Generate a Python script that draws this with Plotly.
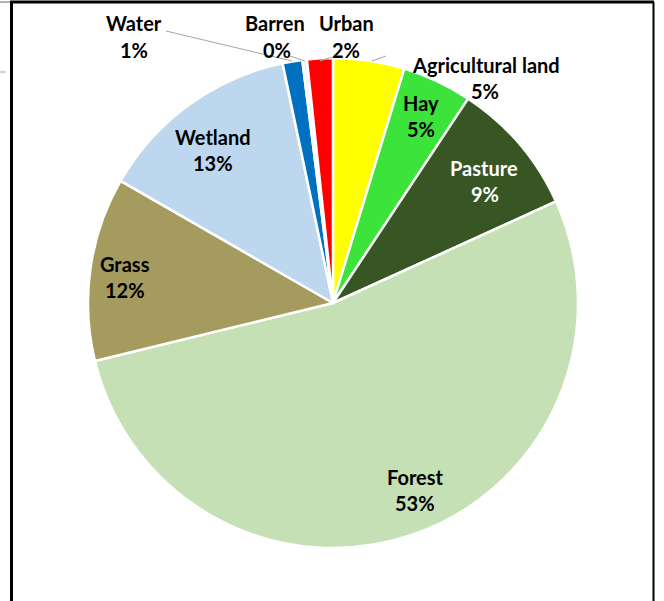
import plotly.graph_objects as go

W, H = 664, 601

labels = ["Agricultural land", "Hay", "Pasture", "Forest", "Grass", "Wetland", "Water", "Barren", "Urban"]
values = [4.7, 4.6, 8.9, 53.0, 12.1, 13.4, 1.3, 0.3, 1.7]
colors = ["#FFFF00", "#3BE33B", "#375623", "#C5E0B4", "#A59B5E", "#BDD7EE", "#0070C0", "#F2F2F2", "#FF0000"]
text_colors = ["#000000", "#000000", "#FFFFFF", "#000000", "#000000", "#000000", "#000000", "#000000", "#000000"]

# label placement (pixel centres of name line, percent line)
label_pos = {
    "Agricultural land": ((486, 65), (485, 91)),
    "Hay": ((421, 103), (421, 129)),
    "Pasture": ((484, 168), (485, 194)),
    "Forest": ((415, 477), (415, 503)),
    "Grass": ((125, 264), (125, 290)),
    "Wetland": ((213, 137), (213, 163)),
    "Water": ((134, 23), (134, 50)),
    "Barren": ((275, 23), (277, 50)),
    "Urban": ((347, 23), (346, 50)),
}
leaders = [
    [(166, 31), (292, 61)],
    [(290, 56), (305, 61)],
    [(320, 61), (332, 57)],
    [(372, 61), (386, 56)],
]


def px(x):
    return x / W


def py(y):
    return 1 - y / H


total = sum(values)
fig = go.Figure(go.Pie(
    labels=labels,
    values=values,
    sort=False,
    direction="clockwise",
    rotation=0,
    textinfo="none",
    marker=dict(colors=colors, line=dict(color="#FFFFFF", width=2.5)),
    domain=dict(x=[px(88), px(578)], y=[py(548), py(58)]),
    showlegend=False,
    hoverinfo="label+percent",
))

annotations = []
for lab, val, tc in zip(labels, values, text_colors):
    (nx, ny), (qx, qy) = label_pos[lab]
    pct = f"{round(val / total * 100)}%"
    for t, (x, y) in ((lab, (nx, ny)), (pct, (qx, qy))):
        annotations.append(dict(
            x=px(x), y=py(y), xref="paper", yref="paper", text=t, showarrow=False,
            xanchor="center", yanchor="middle",
            font=dict(family="Lato", size=20, color=tc, weight="bold"),
        ))

shapes = []
for seg in leaders:
    (x0, y0), (x1, y1) = seg
    shapes.append(dict(type="line", xref="paper", yref="paper",
                       x0=px(x0), y0=py(y0), x1=px(x1), y1=py(y1),
                       line=dict(color="#A6A6A6", width=1)))
# frame
shapes += [
    dict(type="line", xref="paper", yref="paper", x0=px(0), y0=py(2), x1=px(10), y1=py(2),
         line=dict(color="#9A9A9A", width=1.5)),
    dict(type="line", xref="paper", yref="paper", x0=px(10), y0=py(2), x1=px(654), y1=py(2),
         line=dict(color="#000000", width=3)),
    dict(type="line", xref="paper", yref="paper", x0=px(11.5), y0=py(2), x1=px(11.5), y1=py(601),
         line=dict(color="#000000", width=3)),
    dict(type="line", xref="paper", yref="paper", x0=px(653.5), y0=py(2), x1=px(653.5), y1=py(601),
         line=dict(color="#000000", width=2)),
    dict(type="line", xref="paper", yref="paper", x0=px(0), y0=py(72), x1=px(6), y1=py(72),
         line=dict(color="#A6A6A6", width=1)),
]

fig.update_layout(
    width=W, height=H,
    margin=dict(l=0, r=0, t=0, b=0),
    paper_bgcolor="#FFFFFF",
    plot_bgcolor="#FFFFFF",
    annotations=annotations,
    shapes=shapes,
)

fig.write_html("out.html")
